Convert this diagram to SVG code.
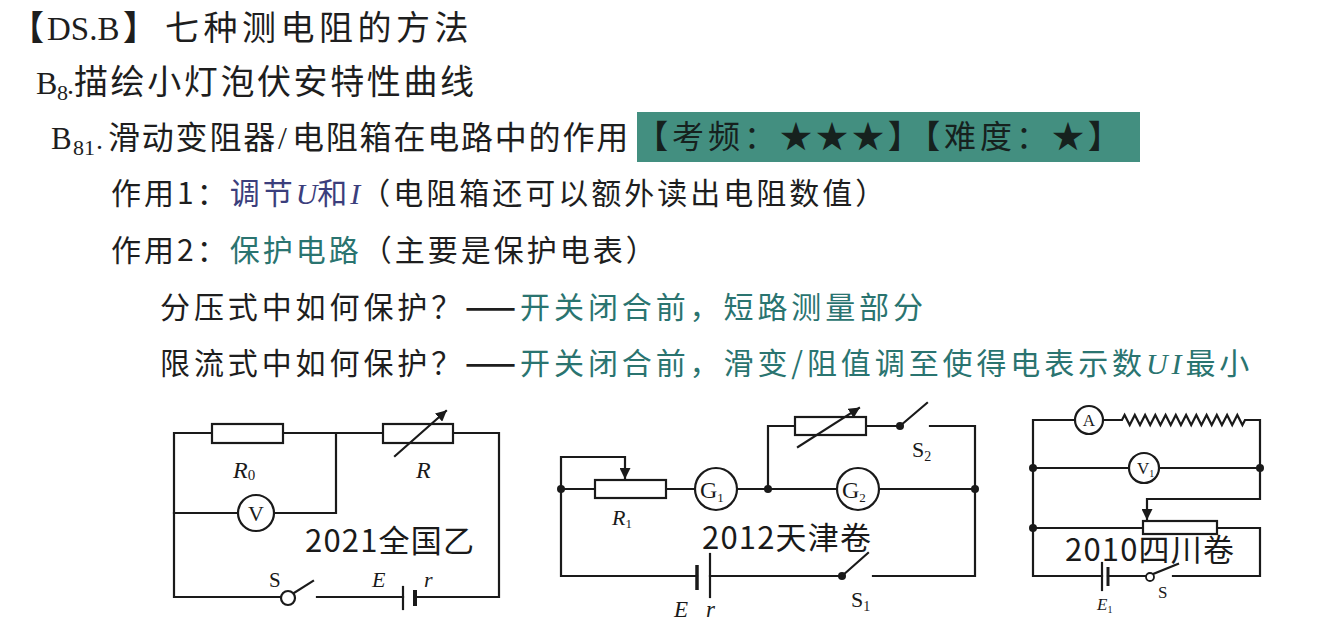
<svg xmlns="http://www.w3.org/2000/svg" width="1324" height="621" viewBox="0 0 1324 621">
<style>
.h{font-family:"Liberation Serif","Noto Sans CJK SC",serif;fill:#1e1e1e}
.s{font-family:"Noto Sans CJK SC",sans-serif;fill:#1e1e1e}
.lat{font-family:"Liberation Serif",serif}
.it{font-family:"Liberation Serif",serif;font-style:italic}
.navy{fill:#3b3e7c}
.teal{fill:#2a7470}
.w{fill:none;stroke:#1a1a1a;stroke-width:2.2;stroke-linecap:square}
.el{fill:#fff;stroke:#1a1a1a;stroke-width:2.2}
.dot{fill:#1a1a1a}
.lb{font-family:"Liberation Serif",serif;fill:#1a1a1a}
.cap{font-family:"Noto Sans CJK SC",sans-serif;fill:#1a1a1a;font-size:31px;letter-spacing:1.2px}
</style>
<defs>
<marker id="arr" viewBox="0 0 10 10" refX="9" refY="5" markerWidth="11" markerHeight="11" markerUnits="userSpaceOnUse" orient="auto">
<path d="M0,0 L10,5 L0,10 z" fill="#1a1a1a"/>
</marker>
</defs>
<rect width="1324" height="621" fill="#fff"/>

<g id="title">
<text class="h" y="40" font-size="34"><tspan x="10" font-weight="bold">【</tspan><tspan class="lat" x="47" font-size="33">DS.B</tspan><tspan x="123" font-weight="bold">】</tspan><tspan x="165" letter-spacing="4.5">七种测电阻的方法</tspan></text>
<text class="h" y="94" font-size="34"><tspan class="lat" x="36" font-size="32">B</tspan><tspan class="lat" x="57" y="100" font-size="22">8</tspan><tspan class="lat" x="67" y="94" font-size="28">.</tspan><tspan x="74" letter-spacing="2.6">描绘小灯泡伏安特性曲线</tspan></text>
<text class="h" y="149" font-size="32"><tspan class="lat" x="51" font-size="31">B</tspan><tspan class="lat" x="73" y="155" font-size="22">81</tspan><tspan class="lat" x="96" y="149" font-size="28">.</tspan><tspan x="108" letter-spacing="1.8">滑动变阻器</tspan><tspan class="lat" x="278">/</tspan><tspan x="292" letter-spacing="1.8">电阻箱在电路中的作用</tspan></text>
</g>

<g id="badge">
<rect x="637" y="112" width="503" height="50" fill="#438f80"/>
<text class="s" x="636" y="148" font-size="32" letter-spacing="4" style="fill:#16211e"><tspan font-weight="bold">【</tspan>考频：★★★<tspan font-weight="bold">】【</tspan>难度：★<tspan font-weight="bold">】</tspan></text>
</g>

<g id="lines">
<text class="s" x="111" y="204" font-size="30" letter-spacing="3">作用1：<tspan class="navy">调节</tspan><tspan class="it navy" letter-spacing="0">U</tspan><tspan class="navy">和</tspan><tspan class="it navy" letter-spacing="0">I</tspan>（电阻箱还可以额外读出电阻数值）</text>
<text class="s" x="111" y="261" font-size="30" letter-spacing="3">作用2：<tspan class="teal">保护电路</tspan>（主要是保护电表）</text>
<text class="s" x="160" y="318" font-size="30" letter-spacing="3.9">分压式中如何保护？<tspan font-weight="bold">——</tspan><tspan class="teal">开关闭合前，短路测量部分</tspan></text>
<text class="s" x="160" y="374" font-size="30" letter-spacing="3.9">限流式中如何保护？<tspan font-weight="bold">——</tspan><tspan class="teal">开关闭合前，滑变/阻值调至使得电表示数</tspan><tspan class="it teal">UI</tspan><tspan class="teal">最小</tspan></text>
</g>

<g id="connectors">
<!-- circuit 1 -->
<path class="w" d="M212,433 H174 V597 H281"/>
<path class="w" d="M283,433 H383"/>
<path class="w" d="M453,433 H499 V597 H415"/>
<path class="w" d="M403,597 H317"/>
<path class="w" d="M294,593 L313,581"/>
<path class="w" d="M174,513 H238"/>
<path class="w" d="M274,513 H336 V433"/>
<!-- circuit 2 -->
<path class="w" d="M595,489 H561 V576 H697"/>
<path class="w" d="M561,489 V457 H625 V478" marker-end="url(#arr)"/>
<path class="w" d="M666,489 H695"/>
<path class="w" d="M737,489 H837"/>
<path class="w" d="M879,489 H975 V576 H873"/>
<path class="w" d="M768,489 V426 H795"/>
<path class="w" d="M866,426 H900 L927,403"/>
<path class="w" d="M930,426 H975 V489"/>
<path class="w" d="M710,576 H842 L868,553"/>
<!-- circuit 3 -->
<path class="w" d="M1075,420 H1033 V576 H1102"/>
<path class="w" d="M1103,420 H1122 L1124.6,415 L1129.7,425 L1134.8,415 L1140,425 L1145.1,415 L1150.2,425 L1155.3,415 L1160.4,425 L1165.6,415 L1170.7,425 L1175.8,415 L1180.9,425 L1186.1,415 L1191.2,425 L1196.3,415 L1201.4,425 L1206.6,415 L1211.7,425 L1216.8,415 L1221.9,425 L1227.1,415 L1232.2,425 L1237.3,415 L1242.4,425 L1245,420 H1260 V468"/>
<path class="w" d="M1033,468 H1129"/>
<path class="w" d="M1159,468 H1260 V499 H1147 V519" marker-end="url(#arr)"/>
<path class="w" d="M1033,528 H1143"/>
<path class="w" d="M1217,528 H1260 V576 H1173"/>
<path class="w" d="M1108,576 H1146"/>
<path class="w" d="M1153,574 L1178,564"/>
</g>

<g id="circuit1">
<rect class="el" x="212" y="424" width="71" height="19"/>
<rect class="el" x="383" y="424" width="70" height="19"/>
<path class="w" d="M395,456 L446,411" marker-end="url(#arr)"/>
<circle class="el" cx="256" cy="513" r="18"/>
<text class="lb" x="256" y="521" font-size="22" text-anchor="middle">V</text>
<circle class="el" cx="288" cy="598" r="7"/>
<path class="w" d="M403,587 V609"/>
<path d="M415,590 V606" stroke="#1a1a1a" stroke-width="4" fill="none"/>
<text class="lb" x="233" y="478" font-size="24" font-style="italic">R<tspan font-style="normal" font-size="15" dy="2">0</tspan></text>
<text class="lb" x="416" y="478" font-size="24" font-style="italic">R</text>
<text class="lb" x="269" y="587" font-size="21">S</text>
<text class="lb" x="372" y="587" font-size="22" font-style="italic">E</text>
<text class="lb" x="424" y="587" font-size="22" font-style="italic">r</text>
<text class="cap" x="305" y="552">2021全国乙</text>
</g>

<g id="circuit2">
<circle class="dot" cx="561" cy="489" r="4"/>
<circle class="dot" cx="768" cy="489" r="4"/>
<circle class="dot" cx="975" cy="489" r="4"/>
<circle class="dot" cx="900" cy="426" r="4"/>
<circle class="dot" cx="842" cy="576" r="4"/>
<rect class="el" x="595" y="480" width="71" height="18"/>
<rect class="el" x="795" y="417" width="71" height="18"/>
<path class="w" d="M798,447 L859,408" marker-end="url(#arr)"/>
<circle class="el" cx="716" cy="489" r="21"/>
<text class="lb" x="700" y="498" font-size="24">G<tspan font-size="13" dy="4">1</tspan></text>
<circle class="el" cx="858" cy="489" r="21"/>
<text class="lb" x="842" y="498" font-size="24">G<tspan font-size="13" dy="4">2</tspan></text>
<path d="M697,565 V590" stroke="#1a1a1a" stroke-width="3.5" fill="none"/>
<path class="w" d="M710,554 V597"/>
<text class="lb" x="612" y="525" font-size="22" font-style="italic">R<tspan font-style="normal" font-size="13" dy="3">1</tspan></text>
<text class="lb" x="674" y="617" font-size="23" font-style="italic">E</text>
<text class="lb" x="706" y="617" font-size="23" font-style="italic">r</text>
<text class="lb" x="851" y="607" font-size="22">S<tspan font-size="14" dy="4">1</tspan></text>
<text class="lb" x="912" y="457" font-size="22">S<tspan font-size="14" dy="4">2</tspan></text>
<text class="cap" x="702" y="549">2012天津卷</text>
</g>

<g id="circuit3">
<circle class="dot" cx="1033" cy="468" r="4"/>
<circle class="dot" cx="1260" cy="468" r="4"/>
<circle class="dot" cx="1033" cy="528" r="4"/>
<circle class="el" cx="1089" cy="420" r="14"/>
<text class="lb" x="1089" y="426" font-size="17" text-anchor="middle">A</text>
<circle class="el" cx="1144" cy="468" r="15"/>
<text class="lb" x="1137" y="474" font-size="17">V<tspan font-size="10" dy="3">1</tspan></text>
<rect class="el" x="1143" y="521" width="74" height="13"/>
<path class="w" d="M1102,563 V590"/>
<path d="M1108,567 V586" stroke="#1a1a1a" stroke-width="3" fill="none"/>
<circle class="el" cx="1150" cy="577" r="4" style="stroke-width:1.8"/>
<text class="lb" x="1158" y="598" font-size="17">S</text>
<text class="lb" x="1097" y="610" font-size="17" font-style="italic">E<tspan font-style="normal" font-size="10" dy="3">1</tspan></text>
<text class="cap" x="1065" y="561">2010四川卷</text>
</g>
</svg>
